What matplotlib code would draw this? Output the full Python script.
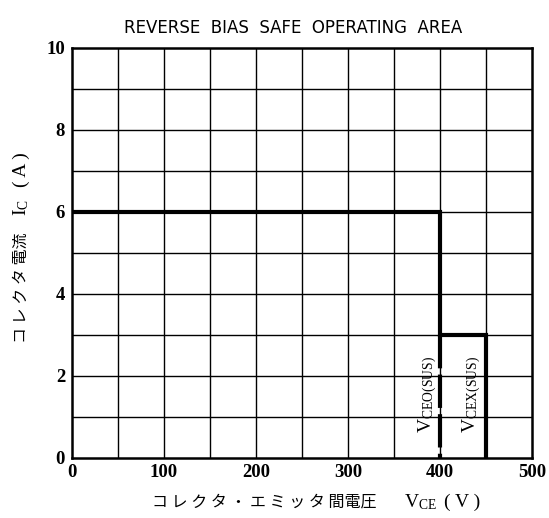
import matplotlib
matplotlib.use("Agg")
import matplotlib.pyplot as plt
import numpy as np

plt.rcParams['font.family'] = ['Liberation Serif', 'Noto Sans CJK JP']
plt.rcParams['mathtext.fontset'] = 'custom'
plt.rcParams['mathtext.rm'] = 'Liberation Serif'
plt.rcParams['mathtext.it'] = 'Liberation Serif:italic'
plt.rcParams['mathtext.bf'] = 'Liberation Serif:bold'

# Data
x_ticks = [0, 100, 200, 300, 400, 500]
y_ticks = [0, 2, 4, 6, 8, 10]
soa_v = [0, 400, 400, 450, 450]
soa_i = [6, 6, 3, 3, 0]
vceo_v = [400, 400]
vceo_i = [3, 0]
title = "REVERSE  BIAS  SAFE  OPERATING  AREA"
xlabel_jp = "コ レ ク タ ・ エ ミ ッ タ 間電圧"
xlabel_sym = "V$_{\\rm CE}$"
xlabel_unit = "( V )"
ylabel_jp = "コ レ ク タ 電流"
ylabel_sym = "I$_{\\rm C}$"
ylabel_unit = "( A )"
label_ceo = "V$_{\\rm CEO(SUS)}$"
label_cex = "V$_{\\rm CEX(SUS)}$"

fig = plt.figure(figsize=(5.49, 5.18), dpi=100)
ax = fig.add_axes([72/549, 1-458/518, 460/549, 410/518])
ax.set_xlim(0, 500)
ax.set_ylim(0, 10)

for v in np.arange(50, 500, 50):
    ax.axvline(v, color='black', lw=1.0, zorder=1)
for i in np.arange(1, 10, 1):
    ax.axhline(i, color='black', lw=1.0, zorder=1)
for s in ax.spines.values():
    s.set_linewidth(1.8)

ax.plot(soa_v, soa_i, color='black', lw=3.0, zorder=3, solid_joinstyle='miter')
ax.plot(vceo_v, vceo_i, color='black', lw=3.0, zorder=3, dashes=(8, 1.5))

ax.text(387, 1.55, label_ceo, rotation=90, ha='center', va='center', fontsize=14)
ax.text(434, 1.55, label_cex, rotation=90, ha='center', va='center', fontsize=14)

ax.set_xticks(x_ticks)
ax.set_yticks(y_ticks)
ax.set_xticklabels([str(t) for t in x_ticks], fontsize=13.5, fontweight='bold')
ax.set_yticklabels([str(t) for t in y_ticks], fontsize=13.5, fontweight='bold')
ax.tick_params(axis='x', length=0, pad=4)
ax.tick_params(axis='y', length=0, pad=5)

fig.text(293/549, 1-28/518, title, ha='center', va='center', fontsize=12,
         family='DejaVu Sans')

# x label
yx = 1 - 502/518
fig.text(152/549, yx, xlabel_jp, ha='left', va='center', fontsize=11.5,
         family='Noto Sans CJK JP')
fig.text(420/549, yx, xlabel_sym, ha='center', va='center', fontsize=14,
         family='Liberation Serif')
fig.text(462/549, yx, xlabel_unit, ha='center', va='center', fontsize=14,
         family='Liberation Serif')

# y label
xy = 21/549
fig.text(xy, 1-343/518, ylabel_jp, ha='center', va='bottom', rotation=90,
         fontsize=11.5, family='Noto Sans CJK JP')
fig.text(xy, 1-208/518, ylabel_sym, ha='center', va='center', rotation=90,
         fontsize=14, family='Liberation Serif')
fig.text(xy, 1-170/518, ylabel_unit, ha='center', va='center', rotation=90,
         fontsize=14, family='Liberation Serif')

fig.savefig("out.png", dpi=100)
